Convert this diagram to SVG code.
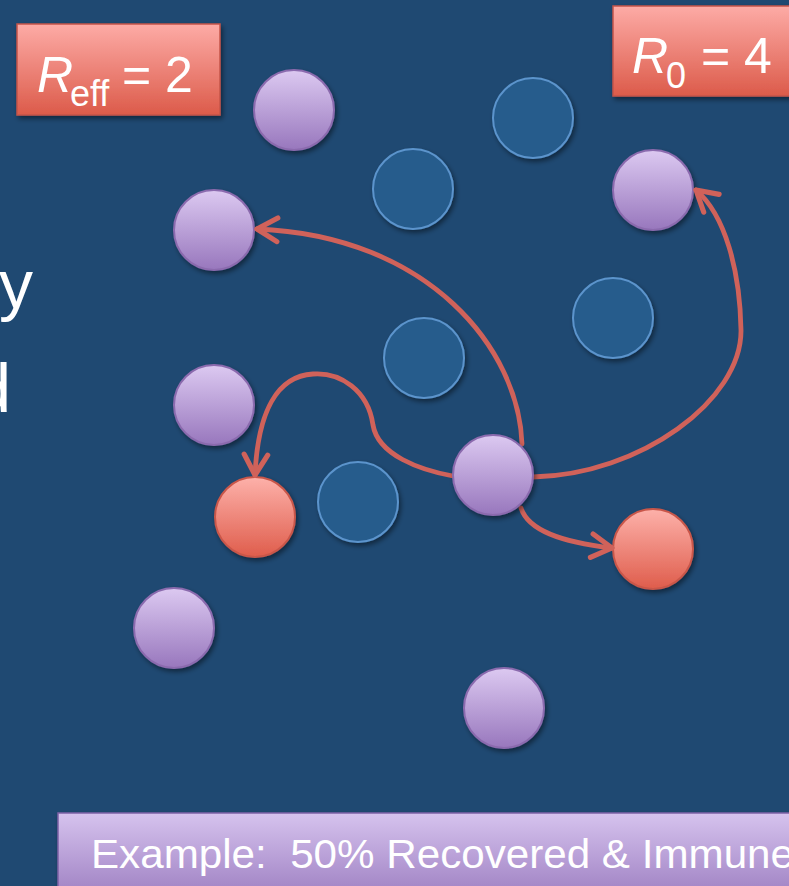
<svg xmlns="http://www.w3.org/2000/svg" width="789" height="886" viewBox="0 0 789 886">
<style>
.bg{fill:#1f4972}
.blue{fill:#275b8c;stroke:#5b94cc;stroke-width:2}
.purple{fill:url(#gPurple);stroke:#8b6bae;stroke-width:2}
.red{fill:url(#gRed);stroke:#c9574a;stroke-width:2}
.conn{fill:none;stroke:#d0625a;stroke-width:4.8;stroke-linecap:round}
.lbl{font-family:"Liberation Sans",Arial,sans-serif;fill:#ffffff}
.sh{filter:url(#shadow)}
</style>
<defs>
<linearGradient id="gPurple" x1="0" y1="0" x2="0" y2="1">
<stop offset="0" stop-color="#dcc9f1"/>
<stop offset="1" stop-color="#9877bd"/>
</linearGradient>
<linearGradient id="gRed" x1="0" y1="0" x2="0" y2="1">
<stop offset="0" stop-color="#fdb1aa"/>
<stop offset="1" stop-color="#df5d4c"/>
</linearGradient>
<linearGradient id="gBox" x1="0" y1="0" x2="0" y2="1">
<stop offset="0" stop-color="#fdaba6"/>
<stop offset="1" stop-color="#dc5b4a"/>
</linearGradient>
<linearGradient id="gBar" x1="0" y1="0" x2="0" y2="1">
<stop offset="0" stop-color="#d6c3ee"/>
<stop offset="1" stop-color="#9a7bbf"/>
</linearGradient>
<filter id="shadow" x="-20%" y="-20%" width="150%" height="150%">
<feDropShadow dx="2" dy="3" stdDeviation="2.5" flood-color="#000" flood-opacity="0.45"/>
</filter>
<marker id="arr" markerUnits="userSpaceOnUse" markerWidth="30" markerHeight="30" viewBox="-22 -14 26 28" refX="0" refY="0" orient="auto">
<path d="M-19,-11 L0,0 L-19,11" fill="none" stroke="#d0625a" stroke-width="4.8" stroke-linecap="round" stroke-linejoin="round"/>
</marker>
</defs>
<rect class="bg" x="0" y="0" width="789" height="886"/>

<g id="leftText">
<text class="lbl" x="33" y="308" font-size="68" text-anchor="end">y</text>
<text class="lbl" x="11" y="412" font-size="68" text-anchor="end">d</text>
</g>

<g id="reff">
<rect class="sh" x="17" y="24" width="203" height="91" fill="url(#gBox)" stroke="#c45449" stroke-width="1.5"/>
<text class="lbl" x="37" y="92" font-size="50" font-style="italic">R</text>
<text class="lbl" x="70" y="106" font-size="36">eff</text>
<text class="lbl" x="122" y="92" font-size="50">= 2</text>
</g>

<g id="r0">
<rect class="sh" x="613" y="6" width="190" height="90" fill="url(#gBox)" stroke="#c45449" stroke-width="1.5"/>
<text class="lbl" x="632" y="73" font-size="50" font-style="italic">R</text>
<text class="lbl" x="666" y="88" font-size="36">0</text>
<text class="lbl" x="701" y="73" font-size="50">= 4</text>
</g>

<g id="n1"><circle class="purple sh" cx="294" cy="110" r="40"/></g>
<g id="n2"><circle class="blue sh" cx="533" cy="118" r="40"/></g>
<g id="n3"><circle class="blue sh" cx="413" cy="189" r="40"/></g>
<g id="n4"><circle class="purple sh" cx="653" cy="190" r="40"/></g>
<g id="n5"><circle class="purple sh" cx="214" cy="230" r="40"/></g>
<g id="n6"><circle class="blue sh" cx="613" cy="318" r="40"/></g>
<g id="n7"><circle class="blue sh" cx="424" cy="358" r="40"/></g>
<g id="n8"><circle class="purple sh" cx="214" cy="405" r="40"/></g>
<g id="n9"><circle class="blue sh" cx="358" cy="502" r="40"/></g>
<g id="n10"><circle class="red sh" cx="255" cy="517" r="40"/></g>
<g id="n11"><circle class="red sh" cx="653" cy="549" r="40"/></g>
<g id="n12"><circle class="purple sh" cx="174" cy="628" r="40"/></g>
<g id="n13"><circle class="purple sh" cx="504" cy="708" r="40"/></g>

<g id="connectors">
<path class="conn" d="M522,444 C519,350 430,236 257,229" marker-end="url(#arr)"/>
<path class="conn" d="M453,476 C420,470 378,455 373,425 C368,390 340,372 313,374 C278,376 258,410 255,475" marker-end="url(#arr)"/>
<path class="conn" d="M533,477 C640,475 742,400 741,330 C740,270 725,215 696,190" marker-end="url(#arr)"/>
<path class="conn" d="M521,508 C528,530 560,542 612,548" marker-end="url(#arr)"/>
</g>

<g id="n0"><circle class="purple sh" cx="493" cy="475" r="40"/></g>

<g id="bar">
<rect class="sh" x="58" y="813" width="760" height="90" fill="url(#gBar)" stroke="#7e62a6" stroke-width="1.5"/>
<text class="lbl" x="91" y="868" font-size="41" textLength="703" lengthAdjust="spacingAndGlyphs" xml:space="preserve">Example:  50% Recovered &amp; Immune</text>
</g>
</svg>
